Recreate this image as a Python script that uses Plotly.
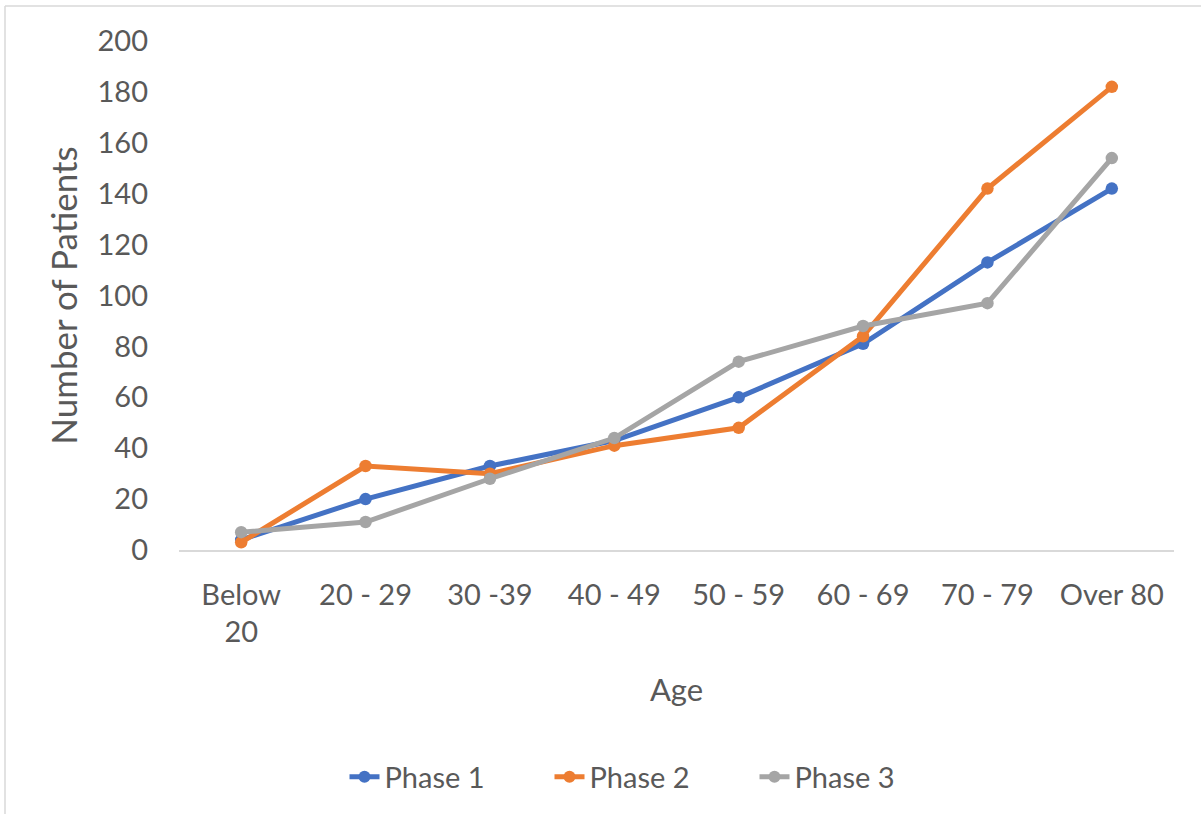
import plotly.graph_objects as go

# Patients per age band for each phase
age_groups = ["Below<br>20", "20 - 29", "30 -39", "40 - 49", "50 - 59", "60 - 69", "70 - 79", "Over 80"]
phase_1 = [4, 20, 33, 43, 60, 81, 113, 142]
phase_2 = [3, 33, 30, 41, 48, 84, 142, 182]
phase_3 = [7, 11, 28, 44, 74, 88, 97, 154]

series_names = ["Phase 1", "Phase 2", "Phase 3"]
series_colors = ["#4472C4", "#ED7D31", "#A5A5A5"]

W, H = 1201, 814
ML, MR, MT, MB = 179, 27, 41, 264
PW, PH = W - ML - MR, H - MT - MB

FONT = "Lato, 'Open Sans', sans-serif"
TEXT = "#595959"


def px_to_paper_x(px):
    return (px - ML) / PW


def px_to_paper_y(py):
    return (H - MB - py) / PH


fig = go.Figure()
for name, vals, color in zip(series_names, [phase_1, phase_2, phase_3], series_colors):
    fig.add_trace(go.Scatter(
        x=age_groups, y=vals, name=name, mode="lines+markers",
        line=dict(color=color, width=5),
        marker=dict(color=color, size=12.5),
    ))

# Thin frame around the chart area
frame = dict(color="#D9D9D9", width=1.5)
fig.add_shape(type="line", xref="paper", yref="paper",
              x0=px_to_paper_x(5), y0=px_to_paper_y(6), x1=px_to_paper_x(1300), y1=px_to_paper_y(6), line=frame)
fig.add_shape(type="line", xref="paper", yref="paper",
              x0=px_to_paper_x(5), y0=px_to_paper_y(6), x1=px_to_paper_x(5), y1=px_to_paper_y(900), line=frame)

fig.update_layout(
    width=W, height=H,
    margin=dict(l=ML, r=MR, t=MT, b=MB, autoexpand=False),
    paper_bgcolor="white", plot_bgcolor="white",
    font=dict(family=FONT, color=TEXT, size=29),
    showlegend=True,
    legend=dict(
        orientation="h", x=px_to_paper_x(652), xanchor="center",
        y=px_to_paper_y(777), yanchor="middle",
        font=dict(family=FONT, size=29, color=TEXT),
        entrywidth=160, itemsizing="constant",
    ),
    xaxis=dict(
        type="category", range=[-0.5, len(age_groups) - 0.5],
        showline=True, linecolor="#D9D9D9", linewidth=1.5,
        showgrid=False, zeroline=False, ticks="",
        ticklabelstandoff=18,
        tickfont=dict(family=FONT, size=29, color=TEXT),
        title=dict(text="Age", font=dict(family=FONT, size=31, color=TEXT), standoff=32),
    ),
    yaxis=dict(
        range=[0, 200], tickvals=list(range(0, 201, 20)),
        showline=False, showgrid=False, zeroline=False, ticks="",
        ticklabelstandoff=30,
        tickfont=dict(family=FONT, size=29, color=TEXT),
        title=dict(text="Number of Patients", font=dict(family=FONT, size=35, color=TEXT), standoff=9),
    ),
)

fig.write_html("out.html")
